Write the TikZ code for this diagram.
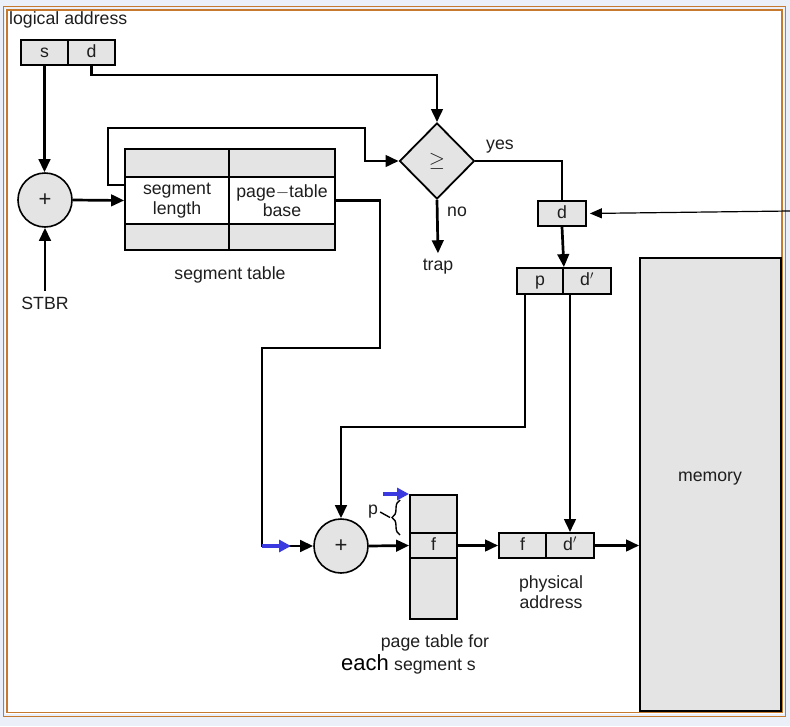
\documentclass[tikz,border=0pt]{standalone}
\usepackage{fontspec}
\setmainfont{Liberation Sans}
\usetikzlibrary{shapes.geometric,arrows.meta,decorations.pathreplacing}
\definecolor{cellgray}{HTML}{E4E4E4}
\definecolor{bgblue}{HTML}{EBF0F8}
\definecolor{frameorange}{HTML}{C67A2E}
\definecolor{txt}{HTML}{1E1E1E}
\definecolor{arrblue}{HTML}{3A3AE0}
\tikzset{
  lbl/.style={font=\fontsize{17.7}{20.5}\selectfont, text=txt, inner sep=0pt, align=center},
  cell/.style={draw=black, line width=1.8pt, fill=cellgray, inner sep=0pt, font=\fontsize{17.7}{20.5}\selectfont, text=txt, text height=12.5pt, text depth=3.5pt},
  blank/.style={draw=black, line width=1.8pt, fill=cellgray, inner sep=0pt},
  wcell/.style={draw=black, line width=1.8pt, fill=white, inner sep=0pt, font=\fontsize{17.7}{20.5}\selectfont, text=txt, align=center},
  adder/.style={circle, draw=black, line width=1.6pt, fill=cellgray, minimum size=54pt, inner sep=0pt, font=\fontsize{22}{24}\selectfont, text=txt},
  arr/.style={line width=2.7pt, -{Triangle[length=13pt,width=11.5pt]}},
  plainline/.style={line width=2.7pt},
  thinarr/.style={line width=1.2pt, -{Triangle[length=12pt,width=10pt]}},
  bluearr/.style={draw=arrblue, line width=4pt, -{Triangle[length=12pt,width=12pt]}},
}
\begin{document}
\begin{tikzpicture}[x=1pt,y=-1pt]
\useasboundingbox (0,0) rectangle (790,726);
\fill[bgblue] (0,0) rectangle (790,726);
\fill[white] (5,8.5) rectangle (784,714);
\draw[frameorange, line width=1.8pt] (3.5,6.5) rectangle (785.5,716.5);
\draw[frameorange, line width=1.8pt] (6.8,10.2) rectangle (782.3,712.5);

% logical address
\node[lbl, anchor=west] (la) at (9,20) {logical address};
\node[cell, minimum width=47pt, minimum height=25pt] (s) at (44.5,52.5) {s};
\node[cell, minimum width=47pt, minimum height=25pt] (d) at (91.5,52.5) {d};

% adder 1
\node[adder] (plus1) at (45,200) {+};
\node[lbl] (stbr) at (45,303) {STBR};

% segment table
\node[blank, minimum width=104pt, minimum height=28pt] (st11) at (177,163) {};
\node[blank, minimum width=106pt, minimum height=28pt] (st12) at (282,163) {};
\node[wcell, minimum width=104pt, minimum height=47pt] (st21) at (177,200.5) {segment\\[-1pt]length};
\node[wcell, minimum width=106pt, minimum height=47pt] (st22) at (282,200.5) {page$-$table\\[-1pt]base};
\node[blank, minimum width=104pt, minimum height=26pt] (st31) at (177,237) {};
\node[blank, minimum width=106pt, minimum height=26pt] (st32) at (282,237) {};
\node[lbl] (stl) at (230,275) {segment table};

% comparator
\node[diamond, draw=black, line width=1.8pt, fill=cellgray, minimum width=75pt, minimum height=76pt, inner sep=0pt, text=txt] (cmp) at (437,161) {\fontsize{22}{24}\selectfont$\geq$};
\node[lbl] (yes) at (500,147) {yes};
\node[lbl] (no) at (457,212) {no};
\node[lbl] (trap) at (438,267) {trap};

% d box
\node[cell, minimum width=48pt, minimum height=25pt] (dbox) at (562,213.5) {d};
\coordinate (rin) at (790,211);

% p d'
\node[cell, minimum width=46pt, minimum height=26pt] (p) at (540,281) {p};
\node[cell, minimum width=48pt, minimum height=26pt] (dp) at (587,281) {d$'$};

% adder 2
\node[adder] (plus2) at (341,546) {+};

% page table
\node[blank, minimum width=47pt, minimum height=38pt] (pt1) at (433.5,514) {};
\node[cell, minimum width=47pt, minimum height=25pt] (ptf) at (433.5,545.5) {f};
\node[blank, minimum width=47pt, minimum height=61pt] (pt3) at (433.5,588.5) {};
\node[lbl] (ptl1) at (435,643) {page table for};
\node[lbl, anchor=base west, font=\fontsize{22}{24}\selectfont, text=black] (each) at (341,670) {each};
\node[lbl, anchor=base west] (segs) at (394,670) {segment s};
\node[lbl] (pl) at (373,512) {p};

% physical address
\node[cell, minimum width=47pt, minimum height=25pt] (f2) at (522.5,545.5) {f};
\node[cell, minimum width=48pt, minimum height=25pt] (dp2) at (570,545.5) {d$'$};
\node[lbl] (phys) at (551,592) {physical\\[0pt]address};

% memory
\node[blank, minimum width=141pt, minimum height=453pt] (mem) at (710.5,484.5) {};
\node[lbl] (meml) at (710,479) {memory};

% connectors
\draw[arr] (s.south) -- (s.south |- plus1.north);
\draw[arr] (stbr.north) ++(0,-6) -- (plus1.south);
\draw[arr] (plus1.east) -- (st21.west);
\draw[arr] (d.south) -- (d.south |- 0,75) -| (cmp.north);
\draw[arr] (st21.west |- 0,185) -- (108,185) -- (108,128) -- (365,128) -- (365,161) -- (cmp.west);
\draw[plainline] (cmp.east) -| (dbox.north);
\draw[arr] (cmp.south) -- ([yshift=6pt]trap.north);
\draw[thinarr, shorten >=3pt] (rin) -- (dbox.east);
\draw[arr] (dbox.south) -- (p.north east);
\draw[arr] ([xshift=9pt]p.south west) |- (plus2.north |- 0,427) -- (plus2.north);
\draw[arr] (dp2.north |- dp.south) -- (dp2.north);
\draw[arr] (st22.east) -| (380,348) -- (262,348) |- (plus2.west);
\draw[bluearr] (262,546) -- (291,546);
\draw[arr] (plus2.east) -- (ptf.west);
\draw[arr] (ptf.east) -- (f2.west);
\draw[arr] (dp2.east) -- (dp2.east -| mem.west);
\draw[bluearr] (383,494) -- (409,494);
\draw[line width=1.4pt, decorate, decoration={brace, amplitude=8pt}] (400,535) -- (400,500);
\draw[line width=1.4pt] (pl.east) ++(2,0) -- (390,517.5);
\end{tikzpicture}
\end{document}
